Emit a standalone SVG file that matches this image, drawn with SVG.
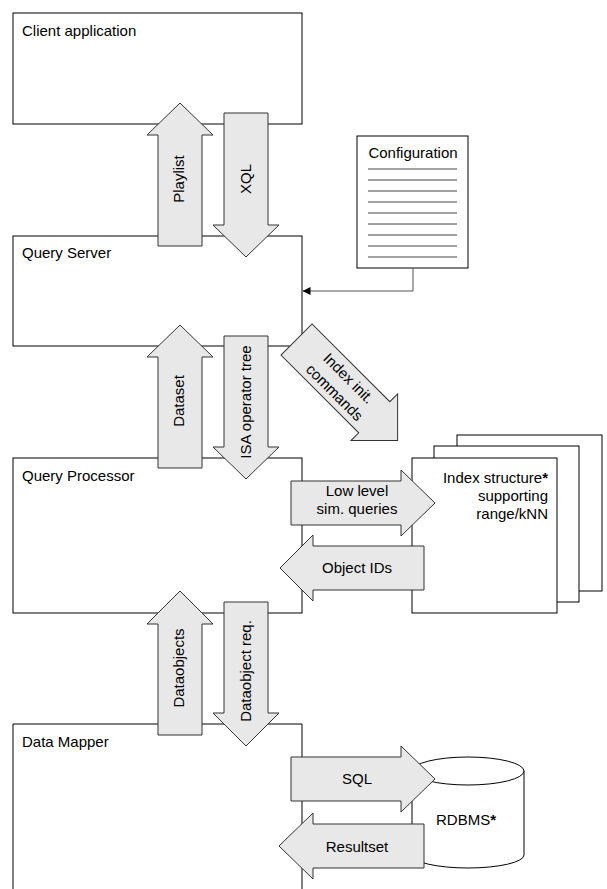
<svg xmlns="http://www.w3.org/2000/svg" width="607" height="889" viewBox="0 0 607 889">
<defs>
<style>
.box{fill:#fff;stroke:#000;stroke-width:1}
.arr{fill:#e8e8e8;stroke:#333;stroke-width:1;stroke-linejoin:miter}
.t{font-family:"Liberation Sans",Arial,sans-serif;font-size:15px;fill:#000}
.m{text-anchor:middle}
.e{text-anchor:end}
.doc{stroke:#444;stroke-width:1}
.conn{fill:none;stroke:#555;stroke-width:1}
</style>
<marker id="ah" viewBox="0 0 8 8" refX="8" refY="4" markerWidth="8" markerHeight="8" markerUnits="userSpaceOnUse" orient="auto">
<path d="M0,0 L8,4 L0,8 Z" fill="#000"/>
</marker>
</defs>
<rect width="607" height="889" fill="#fff"/>

<g id="client">
<rect class="box" x="13" y="13" width="289" height="111"/>
<text class="t" x="22" y="36">Client application</text>
</g>
<g id="queryserver">
<rect class="box" x="13" y="236" width="289" height="110"/>
<text class="t" x="22" y="258">Query Server</text>
</g>
<g id="queryprocessor">
<rect class="box" x="13" y="458" width="289" height="155"/>
<text class="t" x="22" y="481">Query Processor</text>
</g>
<g id="datamapper">
<path class="box" d="M13,900 V724 H302 V900"/>
<text class="t" x="22" y="747">Data Mapper</text>
</g>
<g id="indexstructure">
<rect class="box" x="457" y="435" width="145" height="156"/>
<rect class="box" x="434" y="446" width="145" height="156"/>
<rect class="box" x="412" y="458" width="145" height="155"/>
<text class="t e" x="548" y="483">Index structure<tspan font-weight="bold">*</tspan></text>
<text class="t e" x="548" y="501">supporting</text>
<text class="t e" x="548" y="519">range/kNN</text>
</g>
<g id="rdbms">
<path class="box" d="M412,771 A56,14 0 0 1 524,771 V855 A56,13 0 0 1 412,855 Z"/>
<path class="box" fill="none" d="M412,771 A56,14 0 0 0 524,771"/>
<text class="t" x="436" y="825">RDBMS<tspan font-weight="bold">*</tspan></text>
</g>
<g id="configuration">
<rect class="box" x="357" y="136" width="111" height="132"/>
<text class="t m" x="413" y="158">Configuration</text>
<g class="doc">
<line x1="368" y1="169" x2="457" y2="169"/>
<line x1="368" y1="180" x2="457" y2="180"/>
<line x1="368" y1="191" x2="457" y2="191"/>
<line x1="368" y1="202" x2="457" y2="202"/>
<line x1="368" y1="213" x2="457" y2="213"/>
<line x1="368" y1="224" x2="457" y2="224"/>
<line x1="368" y1="235" x2="457" y2="235"/>
<line x1="368" y1="246" x2="457" y2="246"/>
<line x1="368" y1="257" x2="457" y2="257"/>
</g>
</g>

<g id="connectors">
<path class="conn" d="M413,268 V291 H302.5" marker-end="url(#ah)"/>

<g id="a-playlist">
<polygon class="arr" points="180,103 213,135 202,135 202,246 158,246 158,135 147,135"/>
<text class="t m" transform="translate(184,179) rotate(-90)">Playlist</text>
</g>
<g id="a-xql">
<polygon class="arr" points="224,113 268,113 268,225 279,225 246,257 213,225 224,225"/>
<text class="t m" transform="translate(251,179) rotate(-90)">XQL</text>
</g>
<g id="a-dataset">
<polygon class="arr" points="180,325 213,357 202,357 202,468 158,468 158,357 147,357"/>
<text class="t m" transform="translate(184,401) rotate(-90)">Dataset</text>
</g>
<g id="a-isa">
<polygon class="arr" points="224,336 268,336 268,447 279,447 246,479 213,447 224,447"/>
<text class="t m" transform="translate(251,402) rotate(-90)">ISA operator tree</text>
</g>
<g id="a-dataobjects">
<polygon class="arr" points="180,591 213,624 202,624 202,735 158,735 158,624 147,624"/>
<text class="t m" transform="translate(184,668) rotate(-90)">Dataobjects</text>
</g>
<g id="a-dataobjectreq">
<polygon class="arr" points="224,602 268,602 268,713 279,713 246,746 213,713 224,713"/>
<text class="t m" transform="translate(251,671) rotate(-90)">Dataobject req.</text>
</g>
<g id="a-indexinit">
<polygon class="arr" transform="translate(296.5,339.5) rotate(-45)" points="-22,0 22,0 22,110 33,110 0,143 -33,110 -22,110"/>
<g transform="translate(341.5,385.5) rotate(45)">
<text class="t m" x="0" y="-5">Index init.</text>
<text class="t m" x="0" y="15">commands</text>
</g>
</g>
<g id="a-lowlevel">
<polygon class="arr" points="291,481 401,481 401,470 435,503 401,536 401,525 291,525"/>
<text class="t m" x="357" y="496">Low level</text>
<text class="t m" x="357" y="514">sim. queries</text>
</g>
<g id="a-objectids">
<polygon class="arr" points="280,568 313,535 313,546 424,546 424,590 313,590 313,601"/>
<text class="t m" x="357" y="573">Object IDs</text>
</g>
<g id="a-sql">
<polygon class="arr" points="291,757 401,757 401,746 435,779 401,812 401,801 291,801"/>
<text class="t m" x="357" y="784">SQL</text>
</g>
<g id="a-resultset">
<polygon class="arr" points="279,846 313,813 313,824 424,824 424,868 313,868 313,879"/>
<text class="t m" x="357" y="852">Resultset</text>
</g>
</g>
</svg>
